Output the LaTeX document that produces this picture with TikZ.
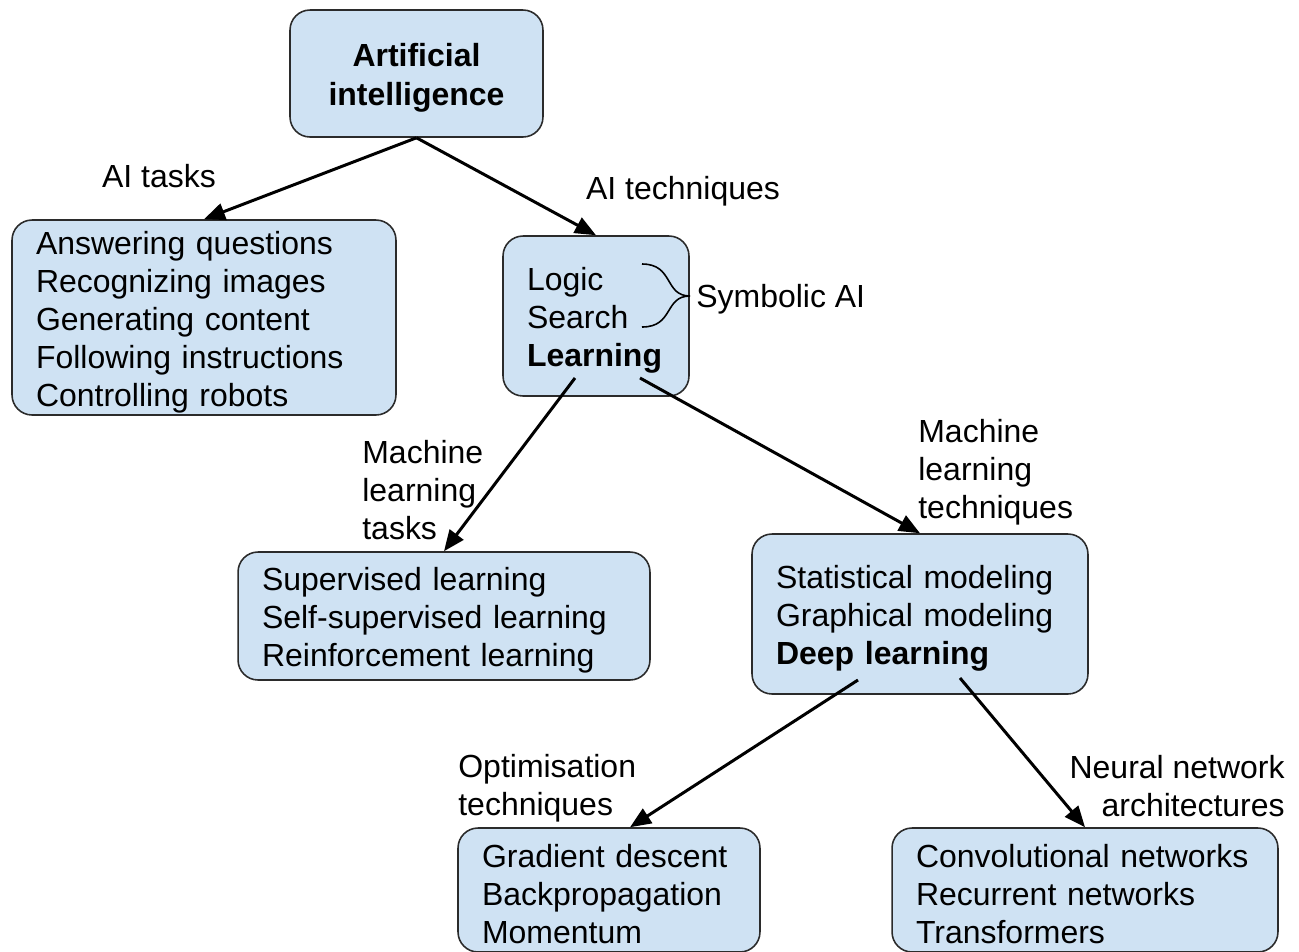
\documentclass[tikz,border=0pt]{standalone}
\usepackage{fontspec}
\setmainfont{Liberation Sans}
\usetikzlibrary{arrows.meta,positioning,calc}
\definecolor{BoxFill}{HTML}{CFE2F3}
\definecolor{BoxLine}{HTML}{2B2B2B}

\begin{document}
\begin{tikzpicture}[
  x=0.02cm, y=-0.02cm,
  every node/.style={font=\fontsize{18.2pt}{21.6pt}\selectfont, inner sep=0pt},
  box/.style={draw=BoxLine, line width=0.9pt, rounded corners=0.4cm, fill=BoxFill, align=left, inner xsep=0.48cm,
    execute at begin node={\rule{0pt}{0.64cm}}},
  lbl/.style={align=left, anchor=west},
  arr/.style={-{Triangle[length=0.42cm,width=0.34cm]}, line width=1.7pt}
]
\path[use as bounding box, clip] (0,0) rectangle (1299,951);

% boxes
\node[box,align=center,text width=4.1cm,minimum height=2.54cm,font=\fontsize{18.2pt}{22pt}\selectfont\bfseries] (ai) at (416.5,73.5) {Artificial\\intelligence};
\node[box,text width=6.72cm,minimum height=3.9cm] (tasks) at (204,317.5) {Answering questions\\Recognizing images\\Generating content\\Following instructions\\Controlling robots};
\node[box,text width=2.76cm,minimum height=3.2cm] (tech) at (596,316) {Logic\\Search\\\textbf{Learning}};
\node[box,text width=7.28cm,minimum height=2.56cm] (mltasks) at (444,616) {Supervised learning\\Self-supervised learning\\Reinforcement learning};
\node[box,text width=5.76cm,minimum height=3.2cm] (mltech) at (920,614) {Statistical modeling\\Graphical modeling\\\textbf{Deep learning}};
\node[box,text width=5.08cm,minimum height=2.48cm] (optim) at (609,890) {Gradient descent\\Backpropagation\\Momentum};
\node[box,text width=6.76cm,minimum height=2.48cm] (nn) at (1085,890) {Convolutional networks\\Recurrent networks\\Transformers};

% labels
\node (aitasks) at (159,176) {AI tasks};
\node (aitech) at (683,191) {AI techniques};
\node[lbl] (symb) at (696,299) {Symbolic AI};
\node[lbl] (mltaskslbl) at (362,490) {Machine\\learning\\tasks};
\node[lbl] (mltechlbl) at (918,472) {Machine\\learning\\techniques};
\node[lbl] (optimlbl) at (458,788.5) {Optimisation\\techniques};
\node[align=right,anchor=east] (nnlbl) at (1285,786) {Neural network\\architectures};

% brace
\coordinate (brTop) at (642,264);
\coordinate (brBot) at (642,327);
\coordinate (brTip) at (690,296);
\draw[line width=0.9pt] (brTop) .. controls (674,264) and (664,296) .. (brTip)
  .. controls (664,296) and (674,327) .. (brBot);

% arrows
\coordinate (learnA) at (575,378);
\coordinate (learnB) at (640,378);
\coordinate (deepA) at (858,680);
\coordinate (deepB) at (960,678);
\draw[arr] (ai.south) -- (tasks.north);
\draw[arr] (ai.south) -- (tech.north);
\draw[arr] (learnA) -- (mltasks.north);
\draw[arr] (learnB) -- (mltech.north);
\draw[arr] (deepA) -- ([xshift=0.42cm]optim.north);
\draw[arr] (deepB) -- (nn.north);
\end{tikzpicture}
\end{document}
